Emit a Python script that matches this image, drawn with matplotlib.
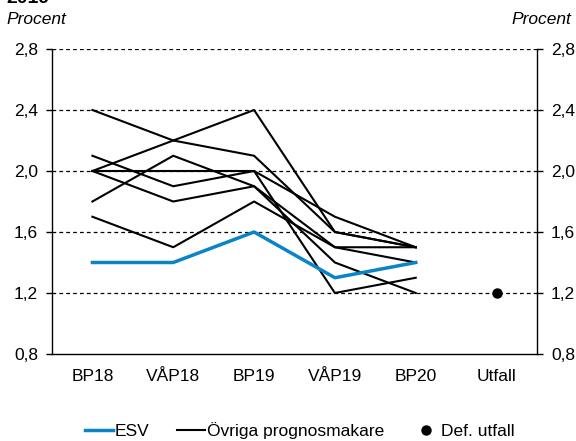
import matplotlib.pyplot as plt
import numpy as np

plt.rcParams['font.family'] = ['Liberation Sans', 'DejaVu Sans']

categories = ['BP18', 'VÅP18', 'BP19', 'VÅP19', 'BP20', 'Utfall']

esv = [1.4, 1.4, 1.6, 1.3, 1.4]

ovriga = [
    [2.4, 2.2, 2.1, 1.6, 1.5],
    [2.0, 2.2, 2.4, 1.6, 1.5],
    [2.0, 2.0, 2.0, 1.7, 1.5],
    [2.1, 1.9, 2.0, 1.2, 1.3],
    [2.0, 1.8, 1.9, 1.5, 1.5],
    [1.8, 2.1, 1.9, 1.4, 1.2],
    [1.7, 1.5, 1.8, 1.5, 1.4],
]

utfall = 1.2

yticks = [0.8, 1.2, 1.6, 2.0, 2.4, 2.8]
ytick_labels = ['0,8', '1,2', '1,6', '2,0', '2,4', '2,8']

esv_blue = '#0a84c6'
fs = 12.5


def plot_chart():
    fig = plt.figure(figsize=(5.76, 4.41), dpi=100)
    ax = fig.add_axes([52 / 576, 1 - 354 / 441, 485 / 576, 305 / 441])

    x = np.arange(len(esv))
    for i, serie in enumerate(ovriga):
        ax.plot(x, serie, color='black', lw=1.5,
                label='Övriga prognosmakare' if i == 0 else None, zorder=3)
    ax.plot(x, esv, color=esv_blue, lw=2.5, label='ESV', zorder=4)
    ax.plot([5], [utfall], 'o', color='black', ms=6.5, label='Def. utfall', zorder=5)

    ax.set_xlim(-0.5, 5.5)
    ax.set_ylim(0.8, 2.8)
    ax.set_xticks(range(len(categories)))
    ax.set_xticklabels(categories, fontsize=fs)
    ax.tick_params(axis='x', length=0, pad=11)

    ax.set_yticks(yticks)
    ax.set_yticklabels(ytick_labels, fontsize=fs)
    ax.tick_params(axis='y', direction='out', length=4, width=1,
                   right=True, labelright=True, pad=6)

    for v in yticks[1:]:
        ax.axhline(v, color='black', lw=0.9, ls=(0, (3, 2.5)), zorder=1)

    ax.spines['top'].set_visible(False)
    for s in ['left', 'right', 'bottom']:
        ax.spines[s].set_linewidth(1)

    fig.text(6 / 576, 1 - 20 / 441, 'Procent', fontsize=fs, style='italic',
             ha='left', va='center')
    fig.text(571 / 576, 1 - 20 / 441, 'Procent', fontsize=fs, style='italic',
             ha='right', va='center')
    # title is clipped at the top edge in the original
    fig.text(6 / 576, 1 - 3 / 441, '2019', fontsize=14, weight='bold',
             ha='left', va='baseline')

    handles, labels = ax.get_legend_handles_labels()
    order = [labels.index('ESV'), labels.index('Övriga prognosmakare'),
             labels.index('Def. utfall')]
    fig.legend([handles[i] for i in order], [labels[i] for i in order],
               loc='center', bbox_to_anchor=(300 / 576, 1 - 431 / 441),
               ncol=3, frameon=False, fontsize=fs, handlelength=1.6,
               handletextpad=0.1, columnspacing=1.6, borderaxespad=0)

    fig.savefig('out.png', dpi=100)


if __name__ == '__main__':
    plot_chart()
